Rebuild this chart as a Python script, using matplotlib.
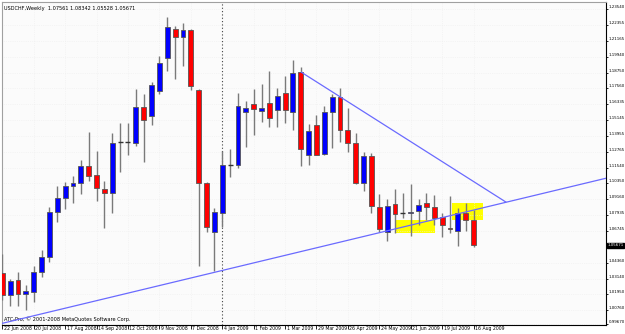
import matplotlib
matplotlib.use('Agg')
import matplotlib.pyplot as plt
from matplotlib import font_manager
from matplotlib.patches import Rectangle
import matplotlib.transforms as mtransforms

# weekly USDCHF bars, 22 Jun 2008 .. 16 Aug 2009
opens = [1.0357, 1.0190, 1.0304, 1.0198, 1.0213, 1.0365, 1.0478, 1.0819, 1.0925, 1.1016,
         1.1039, 1.1168, 1.1099, 1.0993, 1.0963, 1.1349, 1.1349, 1.1342, 1.1615, 1.1546,
         1.1736, 1.1986, 1.2205, 1.2145, 1.2198, 1.1743, 1.1039, 1.0668, 1.0812, 1.1175,
         1.1175, 1.1579, 1.1637, 1.1587, 1.1645, 1.1590, 1.1718, 1.1577, 1.1877, 1.1249,
         1.1478, 1.1256, 1.1574, 1.1688, 1.1440, 1.1340, 1.1039, 1.1246, 1.0855, 1.0670,
         1.0877, 1.0808, 1.0809, 1.0829, 1.0885, 1.0855, 1.0779, 1.0700, 1.0677, 1.0814,
         1.07561]
highs = [1.0500, 1.0312, 1.0365, 1.0266, 1.0410, 1.0531, 1.0857, 1.1016, 1.1046, 1.1092,
         1.1213, 1.1425, 1.1281, 1.1054, 1.1418, 1.1493, 1.1493, 1.1751, 1.1713, 1.1804,
         1.2001, 1.2296, 1.2228, 1.2251, 1.2205, 1.1751, 1.1046, 1.0849, 1.1281, 1.1296,
         1.1721, 1.1660, 1.1751, 1.1789, 1.1887, 1.1758, 1.1849, 1.1971, 1.1918, 1.1486,
         1.1554, 1.1622, 1.1713, 1.1758, 1.1607, 1.1420, 1.1274, 1.1266, 1.0958, 1.0915,
         1.0993, 1.0963, 1.1031, 1.0915, 1.0961, 1.0946, 1.0809, 1.0943, 1.0849, 1.0885,
         1.08342]
lows = [1.0152, 1.0107, 1.0107, 1.0077, 1.0137, 1.0327, 1.0440, 1.0743, 1.0842, 1.0887,
        1.0955, 1.1054, 1.0902, 1.0698, 1.0811, 1.1122, 1.1251, 1.1319, 1.1198, 1.1478,
        1.1713, 1.1887, 1.1827, 1.1925, 1.1743, 1.0410, 1.0668, 1.0372, 1.0705, 1.1084,
        1.1152, 1.1312, 1.1402, 1.1501, 1.1463, 1.1463, 1.1493, 1.1440, 1.1168, 1.1175,
        1.1251, 1.1250, 1.1304, 1.1352, 1.1274, 1.1031, 1.0980, 1.0814, 1.0670, 1.0597,
        1.0658, 1.0771, 1.0637, 1.0721, 1.0758, 1.0721, 1.0627, 1.0658, 1.0564, 1.0677,
        1.05528]
closes = [1.0190, 1.0296, 1.0198, 1.0221, 1.0365, 1.0478, 1.0819, 1.0925, 1.1016, 1.1039,
          1.1168, 1.1092, 1.1001, 1.0963, 1.1342, 1.1349, 1.1349, 1.1615, 1.1516, 1.1781,
          1.1948, 1.2221, 1.2145, 1.2198, 1.1774, 1.1039, 1.0705, 1.0819, 1.1175, 1.1175,
          1.1622, 1.1605, 1.1602, 1.1605, 1.1531, 1.1700, 1.1592, 1.1872, 1.1296, 1.1435,
          1.1253, 1.1574, 1.1688, 1.1440, 1.1344, 1.1037, 1.1243, 1.0865, 1.0690, 1.0865,
          1.0802, 1.0808, 1.0821, 1.0872, 1.0855, 1.0776, 1.0718, 1.0690, 1.0814, 1.0761,
          1.05671]

date_labels = ['22 Jun 2008', '20 Jul 2008', '17 Aug 2008', '14 Sep 2008', '12 Oct 2008',
               '9 Nov 2008', '7 Dec 2008', '4 Jan 2009', '1 Feb 2009', '1 Mar 2009',
               '29 Mar 2009', '26 Apr 2009', '24 May 2009', '21 Jun 2009', '19 Jul 2009',
               '16 Aug 2009']
price_ticks = [1.23540, 1.22355, 1.21165, 1.19940, 1.18750, 1.17560, 1.16335, 1.15145,
               1.13955, 1.12765, 1.11540, 1.10350, 1.09160, 1.07935, 1.06745, 1.04360,
               1.03140, 1.01950, 1.00760, 0.99670]
last_price = 1.05671

# drawn objects (bar index, price)
support_pts = [(14.98, 1.0190), (45.54, 1.0627)]
resist_pts = [(38.1, 1.1877), (64.1, 1.0895)]
boxes = [(50.1, 55.1, 1.0658, 1.0758), (57.2, 61.2, 1.0758, 1.0885)]
separator_bar = 28

# small narrow font like the terminal's bitmap font
names = {f.name for f in font_manager.fontManager.ttflist}
if 'Liberation Sans Narrow' in names:
    small_font, fs, dfs, pfs = 'Liberation Sans Narrow', 4.4, 4.0, 3.4
else:
    small_font, fs, dfs, pfs = 'DejaVu Sans', 3.6, 3.3, 2.9
plt.rcParams['font.family'] = [small_font, 'DejaVu Sans']

fig = plt.figure(figsize=(6.25, 3.34), dpi=100)
ax = fig.add_axes([2 / 625, 9 / 334, 604 / 625, 323 / 334])
ax.set_facecolor('#fbfbfb')

n = len(opens)
idx = list(range(n))

# wicks
ax.vlines(idx, lows, highs, color='#7a7a7a', linewidth=1.0, zorder=3)

# bodies
for i in idx:
    o, c = opens[i], closes[i]
    if abs(c - o) < 1e-9:
        ax.hlines(o, i - 0.32, i + 0.32, color='#333333', linewidth=1.0, zorder=4)
        continue
    col = '#0000ff' if c > o else '#ff0000'
    ax.bar(i, abs(c - o), bottom=min(o, c), width=0.62, color=col,
           edgecolor='#555555', linewidth=0.6, zorder=4)

# yellow boxes
for x0, x1, y0, y1 in boxes:
    ax.add_patch(Rectangle((x0, y0), x1 - x0, y1 - y0, facecolor='#ffff00',
                           edgecolor='none', zorder=1))

# trend lines
ax.axline(support_pts[0], support_pts[1], color='#6a6aff', linewidth=0.9, zorder=5)
ax.plot([resist_pts[0][0], resist_pts[1][0]], [resist_pts[0][1], resist_pts[1][1]],
        color='#6a6aff', linewidth=0.9, zorder=5)

# period separator
ax.axvline(separator_bar, color='#444444', linestyle=(0, (1, 2)), linewidth=0.8, zorder=2)

ax.set_xlim(-0.04, 76.86)
ax.set_ylim(0.9963, 1.2410)

ax.yaxis.tick_right()
ax.set_yticks(price_ticks)
ax.set_yticklabels([f'{p:.5f}' for p in price_ticks], fontsize=pfs, va='bottom')
ax.set_xticks(list(range(0, 4 * len(date_labels), 4)))
ax.set_xticklabels(date_labels, fontsize=dfs, ha='left')
ax.tick_params(axis='y', direction='out', length=1.5, width=0.6, pad=0.3, colors='#000000')
ax.tick_params(axis='x', direction='out', length=3, width=0.6, pad=-2)
# shift date labels just right of their tick
offset = mtransforms.ScaledTranslation(1.5 / 100, 0, fig.dpi_scale_trans)
for lab in ax.get_xticklabels():
    lab.set_transform(lab.get_transform() + offset)
ax.grid(color='#eeeeee', linestyle=':', linewidth=0.5, zorder=0)

for side in ['top', 'left']:
    ax.spines[side].set_color('#a0a0a0')
    ax.spines[side].set_linewidth(0.8)
for side in ['right', 'bottom']:
    ax.spines[side].set_color('#000000')
    ax.spines[side].set_linewidth(0.8)

# current price marker on the price scale
trans = mtransforms.blended_transform_factory(ax.transAxes, ax.transData)
ax.text(1.0025, last_price, f'{last_price:.5f}', transform=trans, fontsize=pfs,
        color='white', va='center', ha='left',
        bbox=dict(facecolor='black', edgecolor='black', pad=0.3), clip_on=False)

ax.text(0.004, 0.988, 'USDCHF,Weekly  1.07561 1.08342 1.05528 1.05671',
        transform=ax.transAxes, fontsize=fs, va='top', ha='left')
ax.text(0.003, 0.008, 'ATC-Pro, \u00a9 2001-2008 MetaQuotes Software Corp.',
        transform=ax.transAxes, fontsize=fs, va='bottom', ha='left')

fig.savefig('out.png', dpi=100)
